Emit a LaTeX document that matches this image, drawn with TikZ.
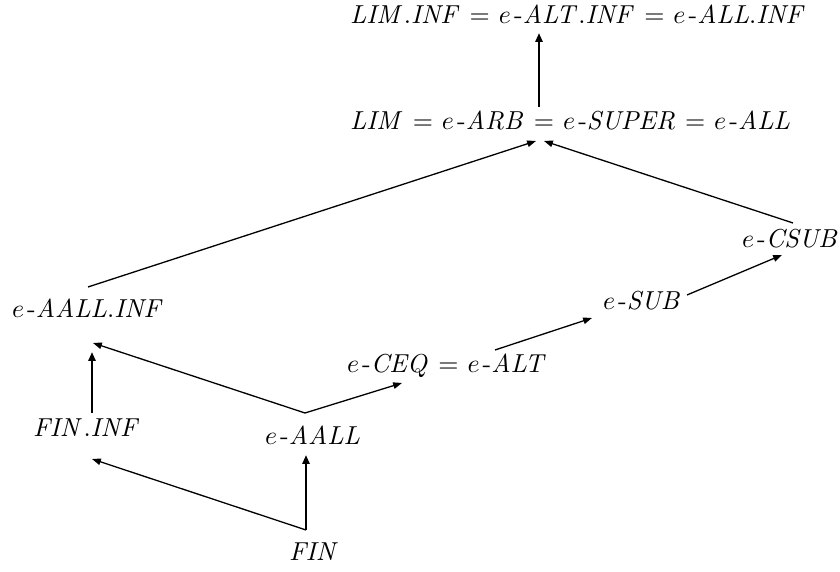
\documentclass[tikz,border=0pt]{standalone}
\usetikzlibrary{arrows.meta}
% italic names set with the text italic font; the prefix e keeps math italic
\newcommand{\ename}[1]{e\kern1.2pt\mbox{-}\mathit{#1}}
\newcommand{\nm}[1]{\mathit{#1}}
\begin{document}
\begin{tikzpicture}[x=0.385pt, y=-0.385pt,
  lbl/.style={anchor=base west, inner sep=0pt, outer sep=0pt,
    execute at begin node={\thickmuskip=6.2mu}},
  edge/.style={line width=0.5pt, -{Triangle[length=3.4pt,width=2.5pt]}},
  vedge/.style={line width=0.9pt, -{Triangle[length=3.4pt,width=2.7pt]}}]
\useasboundingbox (0,0) rectangle (840,572);

% lattice members, placed by baseline
\node[lbl] (top)    at (350,24)  {$\nm{LIM}.\nm{INF} = \ename{ALT}.\nm{INF} = \ename{ALL}.\nm{INF}$};
\node[lbl] (lim)    at (350,130) {$\nm{LIM} = \ename{ARB} = \ename{SUPER} = \ename{ALL}$};
\node[lbl] (csub)   at (742,248) {$\ename{CSUB}$};
\node[lbl] (sub)    at (603,310) {$\ename{SUB}$};
\node[lbl] (aallinf) at (12,318) {$\ename{AALL}.\nm{INF}$};
\node[lbl] (ceq)    at (347,373) {$\ename{CEQ} = \ename{ALT}$};
\node[lbl] (fininf) at (33,437)  {$\nm{FIN}.\nm{INF}$};
\node[lbl] (aall)   at (265,445) {$\ename{AALL}$};
\node[lbl] (fin)    at (289,561) {$\nm{FIN}$};

% connector end points
\coordinate (lim-up)    at (539,107);
\coordinate (top-in)    at (539,33);
\coordinate (lim-inl)   at (536,141);
\coordinate (lim-inr)   at (544,141);
\coordinate (aallinf-up) at (88,287);
\coordinate (aallinf-in) at (93,343);
\coordinate (aallinf-inv) at (92,352);
\coordinate (csub-up)   at (793,223);
\coordinate (csub-in)   at (782,255);
\coordinate (sub-out)   at (687,295);
\coordinate (sub-in)    at (592,318);
\coordinate (ceq-out)   at (495,350);
\coordinate (ceq-in)    at (402,383);
\coordinate (aall-up)   at (305,413);
\coordinate (aall-in)   at (306,455);
\coordinate (fininf-up) at (92,413);
\coordinate (fininf-in) at (92,459);
\coordinate (fin-up)    at (306,530);

\draw[vedge] (lim-up) -- (top-in);
\draw[edge] (aallinf-up) -- (lim-inl);
\draw[edge] (csub-up) -- (lim-inr);
\draw[edge] (sub-out) -- (csub-in);
\draw[edge] (ceq-out) -- (sub-in);
\draw[edge] (aall-up) -- (ceq-in);
\draw[edge] (aall-up) -- (aallinf-in);
\draw[vedge] (fininf-up) -- (aallinf-inv);
\draw[vedge] (fin-up) -- (aall-in);
\draw[edge] (fin-up) -- (fininf-in);
\end{tikzpicture}
\end{document}
